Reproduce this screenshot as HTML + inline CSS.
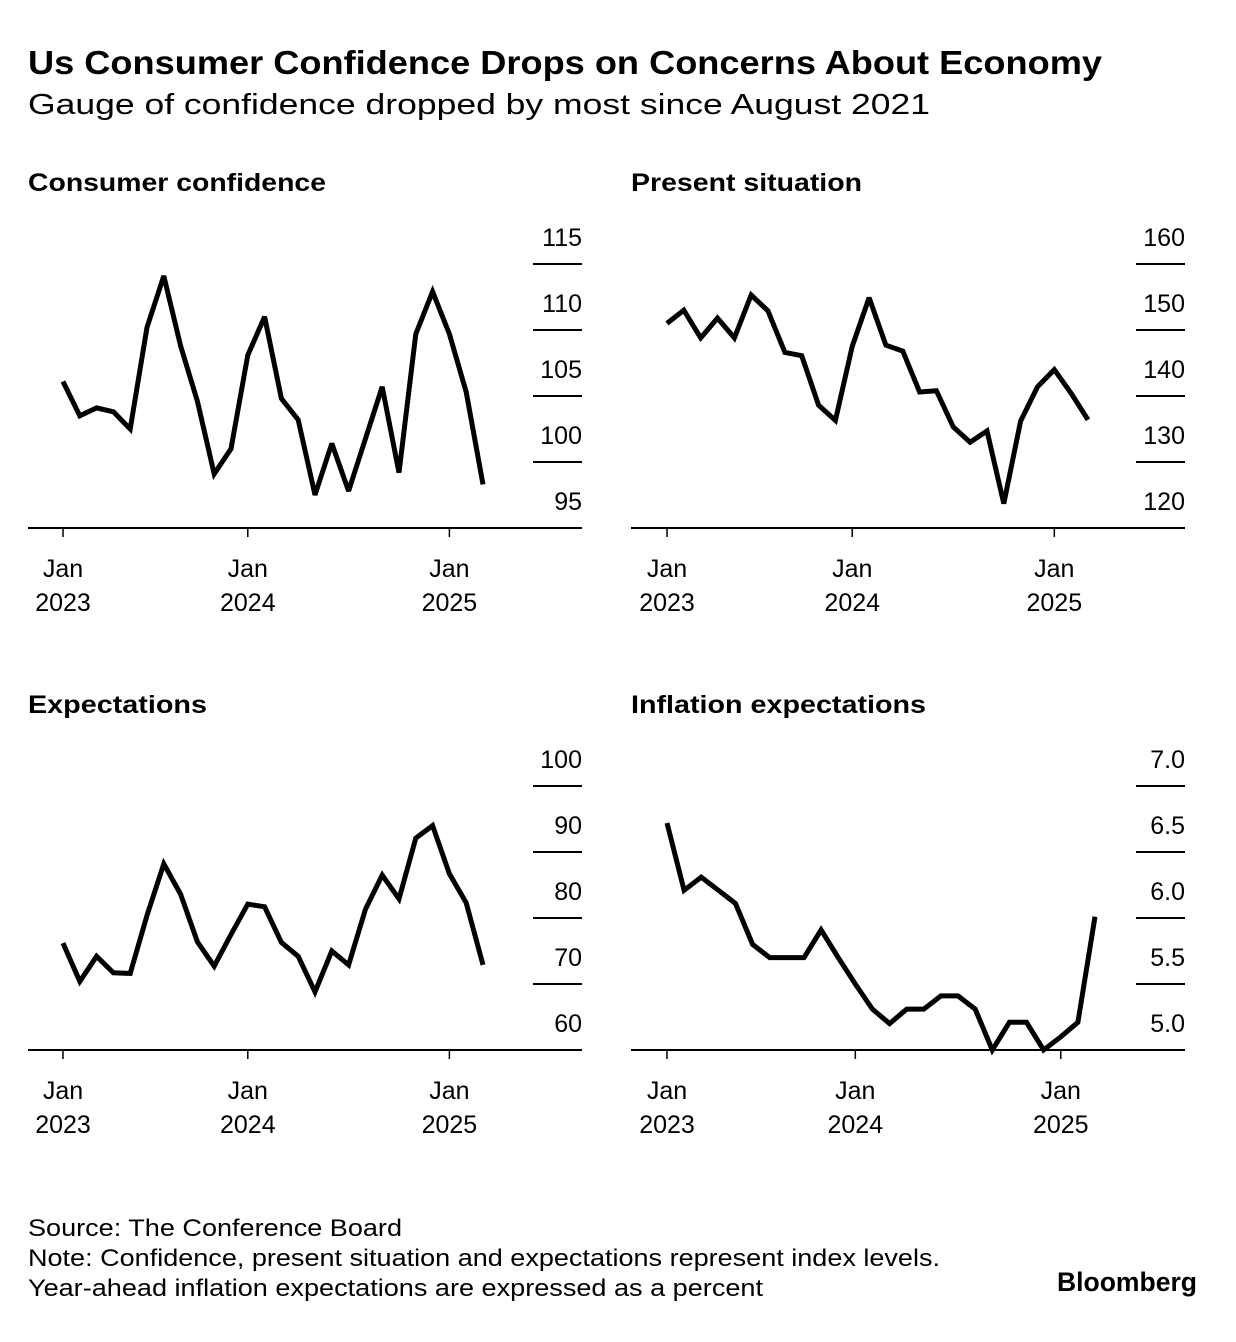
<!DOCTYPE html>
<html><head><meta charset="utf-8"><style>
html,body{margin:0;padding:0;background:#fff;}
svg{display:block;font-family:"Liberation Sans",Arial,sans-serif;}
</style></head><body>
<svg id="chart" width="1236" height="1342" viewBox="0 0 1236 1342" xmlns="http://www.w3.org/2000/svg">
<rect width="1236" height="1342" fill="#fff"/>
<text x="28" y="74" font-size="33" font-weight="bold" textLength="1074" lengthAdjust="spacingAndGlyphs">Us Consumer Confidence Drops on Concerns About Economy</text>
<text x="28" y="114" font-size="29" textLength="902" lengthAdjust="spacingAndGlyphs">Gauge of confidence dropped by most since August 2021</text>
<g id="panels"></g>
<text x="28" y="1236" font-size="24" textLength="374" lengthAdjust="spacingAndGlyphs">Source: The Conference Board</text>
<text x="28" y="1266" font-size="24" textLength="912" lengthAdjust="spacingAndGlyphs">Note: Confidence, present situation and expectations represent index levels.</text>
<text x="28" y="1296" font-size="24" textLength="735" lengthAdjust="spacingAndGlyphs">Year-ahead inflation expectations are expressed as a percent</text>
<text x="1057" y="1291" font-size="27" font-weight="bold" textLength="140" lengthAdjust="spacingAndGlyphs">Bloomberg</text>
</svg>
<script>
const confidenceValues = [106.1,103.5,104.1,103.8,102.5,110.2,114.1,108.8,104.6,99.1,101.0,108.1,111.0,104.8,103.2,97.5,101.4,97.8,101.75,105.7,99.2,109.7,112.9,109.7,105.3,98.3];
const presentValues = [151.0,153.0,148.8,151.8,148.8,155.3,152.9,146.6,146.1,138.6,136.3,147.5,154.9,147.7,146.8,140.6,140.8,135.3,133.0,134.7,123.7,136.2,141.4,144.0,140.4,136.4];
const expectationsValues = [76.2,70.4,74.2,71.7,71.6,80.4,88.2,83.6,76.4,72.7,77.5,82.1,81.7,76.3,74.2,68.8,75.0,72.9,81.3,86.5,82.9,92.1,94.0,86.7,82.3,72.9];
const inflationValues = [6.72,6.21,6.31,6.21,6.11,5.80,5.70,5.70,5.70,5.91,5.70,5.50,5.31,5.20,5.31,5.31,5.41,5.41,5.31,5.0,5.21,5.21,5.0,5.10,5.21,6.01];
const confidenceTicks = [95,100,105,110,115];
const presentTicks = [120,130,140,150,160];
const expectationsTicks = [60,70,80,90,100];
const inflationTicks = ["5.0","5.5","6.0","6.5","7.0"];
const xTickIndex = [0,11,23];
const xTickMonth = ["Jan","Jan","Jan"];
const xTickYear = ["2023","2024","2025"];

const NS = "http://www.w3.org/2000/svg";
const root = document.getElementById("panels");
function mk(tag, attrs, parent){const e=document.createElementNS(NS,tag);for(const k in attrs)e.setAttribute(k,attrs[k]);(parent||root).appendChild(e);return e;}

function drawPanel(p){
  const g = mk("g",{});
  
  
  const t = mk("text",{x:p.left,y:p.base-337,"font-size":25,"font-weight":"bold",textLength:p.titleW,lengthAdjust:"spacingAndGlyphs"},g);
  t.textContent = p.title;
  
  
  const ticks = p.ticks.map(Number);
  const vmin = ticks[0], vmax = ticks[ticks.length-1];
  const ys = v => p.base - (v - vmin) / (vmax - vmin) * 264;
  const n = p.values.length;
  const xs = i => p.x0 + (p.x1 - p.x0) * i / (n - 1);
  // y gridlines and labels
  p.ticks.forEach((tv,i)=>{
    const y = ys(Number(tv));
    if(i>0){
      const l = mk("line",{x1:p.gridX0,x2:p.right,y1:y,y2:y,stroke:"#000","stroke-width":2},g);
      
      
    }
    const lab = mk("text",{x:p.right,y:y-18,"font-size":25,"text-anchor":"end"},g);
    lab.textContent = tv;
    
    
  });
  // axis
  const ax = mk("line",{x1:p.left,x2:p.right,y1:p.base,y2:p.base,stroke:"#000","stroke-width":2},g);
  
  
  xTickIndex.forEach((ti,k)=>{
    const x = xs(ti);
    const tk = mk("line",{x1:x,x2:x,y1:p.base,y2:p.base+9,stroke:"#000","stroke-width":1.5},g);
    
    
    const m = mk("text",{x:x,y:p.base+49,"font-size":25,"text-anchor":"middle"},g);
    m.textContent = xTickMonth[k];
    
    
    const yr = mk("text",{x:x,y:p.base+83,"font-size":25,"text-anchor":"middle"},g);
    yr.textContent = xTickYear[k];
    
    
  });
  const pts = p.values.map((v,i)=>xs(i).toFixed(1)+","+ys(v).toFixed(1)).join(" ");
  const line = mk("polyline",{points:pts,fill:"none",stroke:"#000","stroke-width":5,"stroke-linejoin":"miter","stroke-miterlimit":3},g);
  
  
}

drawPanel({name:"consumer-confidence-panel",title:"Consumer confidence",titleW:298,left:28,right:582,gridX0:533,base:528,x0:63,x1:483,values:confidenceValues,ticks:confidenceTicks});
drawPanel({name:"present-situation-panel",title:"Present situation",titleW:231,left:631,right:1185,gridX0:1136,base:528,x0:667,x1:1088,values:presentValues,ticks:presentTicks});
drawPanel({name:"expectations-panel",title:"Expectations",titleW:179,left:28,right:582,gridX0:533,base:1050,x0:63,x1:483,values:expectationsValues,ticks:expectationsTicks});
drawPanel({name:"inflation-expectations-panel",title:"Inflation expectations",titleW:295,left:631,right:1185,gridX0:1136,base:1050,x0:667,x1:1095,values:inflationValues,ticks:inflationTicks});
</script>
</body></html>
